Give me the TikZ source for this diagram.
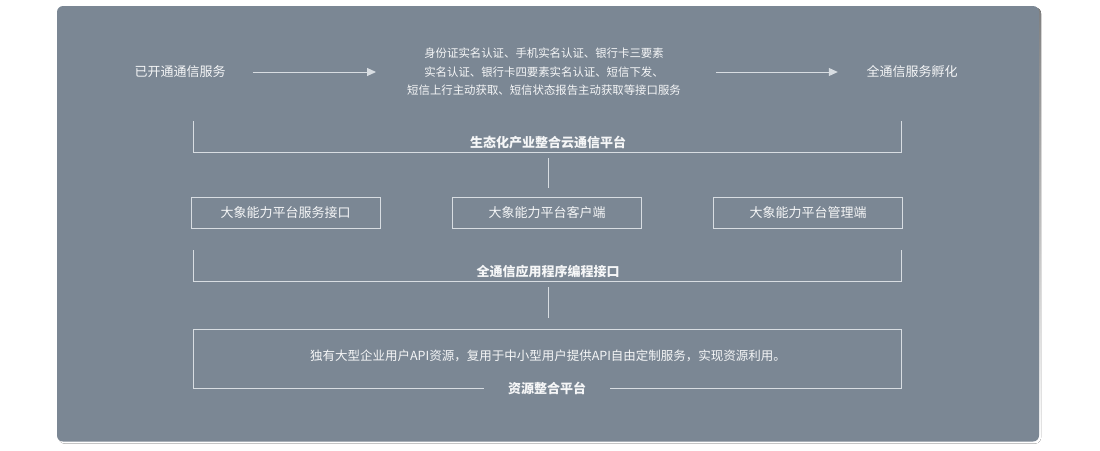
\documentclass[tikz,border=0pt]{standalone}
\usepackage{fontspec}
\setmainfont{Noto Sans CJK SC}
\usetikzlibrary{arrows.meta}
\definecolor{panel}{HTML}{7B8794}
\definecolor{shade}{HTML}{A9AFB6}
\definecolor{edge}{HTML}{D8DDE2}
\definecolor{txt}{HTML}{F5F6F7}
\begin{document}
\begin{tikzpicture}[x=1pt,y=-1pt,
  lbl/.style={text=txt,font=\fontsize{13}{15}\selectfont,inner sep=0pt},
  blbl/.style={text=txt,font=\fontsize{13}{15}\selectfont\bfseries,inner sep=0pt},
  ln/.style={draw=edge,line width=1pt},
  box/.style={ln,text=txt,font=\fontsize{13}{15}\selectfont,minimum width=189pt,minimum height=31pt,inner sep=0pt},
  arr/.style={ln,-{Triangle[length=9pt,width=8pt]}}]
\useasboundingbox (0,0) rectangle (1100,450);
\fill[white] (0,0) rectangle (1100,450);
\fill[shade,rounded corners=6pt] (58.5,7.5) rectangle (1041,443.5);
\fill[panel,rounded corners=6pt] (57,6) rectangle (1039,441.5);
% top row
\node[lbl] (a) at (180,72) {已开通通信服务};
\node[lbl,font=\fontsize{11.4}{18.5}\selectfont,align=center] (b) at (544,72)
  {身份证实名认证、手机实名认证、银行卡三要素\\实名认证、银行卡四要素实名认证、短信下发、\\短信上行主动获取、短信状态报告主动获取等接口服务};
\node[lbl] (c) at (912,72) {全通信服务孵化};
\draw[arr] ([xshift=27pt]a.east) -- ([xshift=-31pt]b.west);
\draw[arr] ([xshift=35pt]b.east) -- ([xshift=-28.5pt]c.west);
% bracket 1
\coordinate (b1l) at (193,121);
\coordinate (b1r) at (901,121);
\draw[ln] (b1l) -- (193,152) -- (901,152) -- (b1r);
\node[blbl] (p1) at (548,142) {生态化产业整合云通信平台};
\coordinate (v1a) at (548,158);
% boxes
\node[box] (k1) at (285.5,212.5) {大象能力平台服务接口};
\node[box] (k2) at (547,212.5) {大象能力平台客户端};
\node[box] (k3) at (808,212.5) {大象能力平台管理端};
\draw[ln] (v1a) -- ([yshift=9pt]k2.north -| v1a);
% bracket 2
\coordinate (b2l) at (193,250);
\coordinate (b2r) at (901,250);
\draw[ln] (b2l) -- (193,281) -- (901,281) -- (b2r);
\node[blbl] (p2) at (548,272) {全通信应用程序编程接口};
% bottom
\node[ln,minimum width=708pt,minimum height=59pt,inner sep=0pt] (r) at (547,358.5) {};
\node[text=txt,font=\fontsize{12.5}{15}\selectfont,inner sep=0pt] (rt) at (548,356)
  {独有大型企业用户API资源，复用于中小型用户提供API自由定制服务，实现资源利用。};
\node[blbl,fill=panel,inner xsep=24pt,inner ysep=2pt] (p3) at (547,388) {资源整合平台};
\coordinate (v2a) at (548,287);
\draw[ln] (v2a) -- ([yshift=11pt]r.north -| v2a);
\end{tikzpicture}
\end{document}
